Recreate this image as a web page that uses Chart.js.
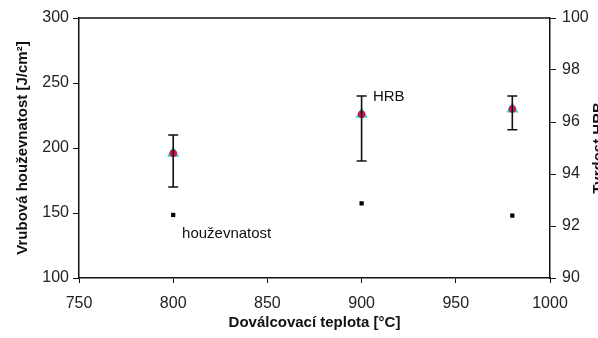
<!DOCTYPE html>
<html>
<head>
<meta charset="utf-8">
<script src="https://cdn.jsdelivr.net/npm/chart.js@4.4.0/dist/chart.umd.min.js"></script>
<style>
  html, body { margin: 0; padding: 0; background: #fff; }
  #wrap { width: 598px; height: 338px; position: relative; }
</style>
</head>
<body>
<div id="wrap"><canvas id="chart"></canvas></div>
<script>
// finishing temperature [°C]
var temps = [800, 900, 980];
// notch toughness [J/cm2], left axis
var toughness = [148.5, 157.4, 148];
// hardness HRB, right axis, with error bar bounds
var hrb = [94.8, 96.3, 96.5];
var hrbHigh = [95.5, 97.0, 97.0];
var hrbLow = [93.5, 94.5, 95.7];

var FONT = '"Liberation Sans", Arial, sans-serif';

function pts(ys) {
  return temps.map(function (t, i) { return { x: t, y: ys[i] }; });
}

function plain(v) { return String(v); }

// black whiskers for the hardness spread
var errorBars = {
  id: 'errorBars',
  afterDatasetsDraw: function (chart) {
    var ctx = chart.ctx;
    var xs = chart.scales.x;
    var ys = chart.scales.y1;
    ctx.save();
    ctx.strokeStyle = '#111';
    ctx.lineWidth = 1.6;
    temps.forEach(function (t, i) {
      var px = xs.getPixelForValue(t);
      var top = ys.getPixelForValue(hrbHigh[i]);
      var bot = ys.getPixelForValue(hrbLow[i]);
      ctx.beginPath();
      ctx.moveTo(px, top); ctx.lineTo(px, bot);
      ctx.moveTo(px - 5, top); ctx.lineTo(px + 5, top);
      ctx.moveTo(px - 5, bot); ctx.lineTo(px + 5, bot);
      ctx.stroke();
    });
    ctx.restore();
  }
};

// plot frame, series labels and the right axis title
var extras = {
  id: 'extras',
  afterDraw: function (chart) {
    var ctx = chart.ctx;
    var a = chart.chartArea;
    var xs = chart.scales.x;
    ctx.save();
    ctx.strokeStyle = '#111';
    ctx.lineWidth = 1.5;
    ctx.beginPath();
    ctx.moveTo(a.left, a.top); ctx.lineTo(a.right, a.top);
    ctx.stroke();

    ctx.fillStyle = '#111';
    ctx.font = '15px ' + FONT;
    ctx.textBaseline = 'middle';
    ctx.textAlign = 'left';
    ctx.fillText('HRB', xs.getPixelForValue(906), chart.scales.y1.getPixelForValue(96.95));
    ctx.fillText('houževnatost', xs.getPixelForValue(804.7), chart.scales.y.getPixelForValue(133.8));

    ctx.font = 'bold 15px ' + FONT;
    ctx.textAlign = 'center';
    ctx.translate(599, (a.top + a.bottom) / 2);
    ctx.rotate(-Math.PI / 2);
    ctx.fillText('Tvrdost HRB', 0, 0);
    ctx.restore();
  }
};

new Chart(document.getElementById('chart'), {
  type: 'scatter',
  data: {
    datasets: [
      {
        label: 'houževnatost',
        data: pts(toughness),
        yAxisID: 'y',
        pointStyle: 'rect',
        pointRadius: 3,
        backgroundColor: '#000',
        borderColor: '#000',
        borderWidth: 0
      },
      {
        // red dot sits on top of the cyan triangle
        label: 'HRB',
        data: pts(hrb),
        yAxisID: 'y1',
        pointStyle: 'circle',
        pointRadius: 3.8,
        backgroundColor: '#c41e5a',
        borderColor: '#c41e5a',
        borderWidth: 0
      },
      {
        label: 'HRB',
        data: pts(hrb),
        yAxisID: 'y1',
        pointStyle: 'triangle',
        pointRadius: 7,
        backgroundColor: '#3fd3ca',
        borderColor: '#3fd3ca',
        borderWidth: 0
      }
    ]
  },
  options: {
    responsive: true,
    maintainAspectRatio: false,
    animation: false,
    layout: { padding: { top: 18, left: 0, right: 0, bottom: 0 } },
    plugins: { legend: { display: false }, tooltip: { enabled: false } },
    scales: {
      x: {
        type: 'linear',
        min: 750,
        max: 1000,
        ticks: { stepSize: 50, color: '#222', font: { family: FONT, size: 16 }, padding: 11, maxRotation: 0, callback: plain },
        grid: { drawOnChartArea: false, tickLength: 5, color: '#111' },
        border: { color: '#111', width: 1.5 },
        title: {
          display: true,
          text: 'Doválcovací teplota [°C]',
          color: '#111',
          font: { family: FONT, size: 15, weight: 'bold' },
          padding: { top: 0, bottom: 6 }
        },
        afterFit: function (s) { s.height = 60; }
      },
      y: {
        position: 'left',
        min: 100,
        max: 300,
        ticks: { stepSize: 50, color: '#222', font: { family: FONT, size: 16 }, padding: 4, callback: plain },
        grid: { drawOnChartArea: false, tickLength: 6, color: '#111' },
        border: { color: '#111', width: 1.5 },
        title: {
          display: true,
          text: 'Vrubová houževnatost [J/cm²]',
          color: '#111',
          font: { family: FONT, size: 15, weight: 'bold' },
          padding: { top: 14, bottom: 0 }
        },
        afterFit: function (s) { s.width = 79; }
      },
      y1: {
        position: 'right',
        min: 90,
        max: 100,
        ticks: { stepSize: 2, color: '#222', font: { family: FONT, size: 16 }, padding: 6, callback: plain },
        grid: { drawOnChartArea: false, tickLength: 6, color: '#111' },
        border: { color: '#111', width: 1.5 },
        afterFit: function (s) { s.width = 48; }
      }
    }
  },
  plugins: [errorBars, extras]
});
</script>
</body>
</html>
